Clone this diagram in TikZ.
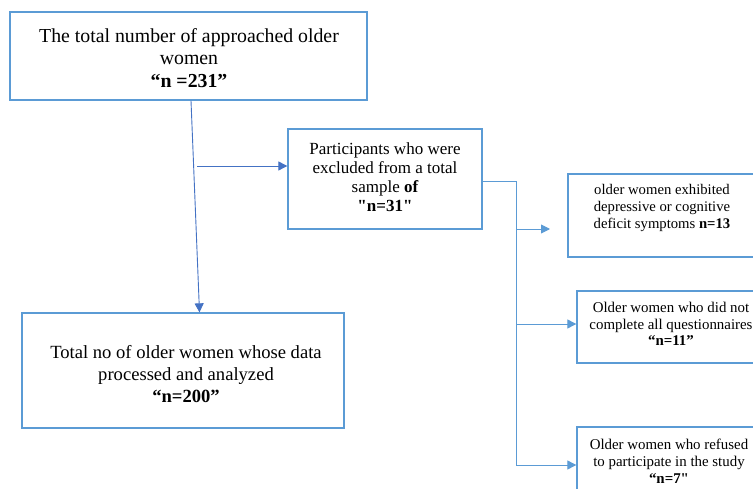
\documentclass[tikz,border=0pt]{standalone}
\usepackage{fontspec}
\setmainfont{Liberation Serif}[Ligatures=TeXOff]
\usetikzlibrary{arrows.meta}
\definecolor{boxblue}{HTML}{5B9BD5}
\definecolor{arrblue}{HTML}{4472C4}
\begin{document}
\begin{tikzpicture}[x=1pt,y=-1pt,
  box/.style={draw=boxblue, line width=1.3pt, rectangle, inner sep=0pt},
  txt/.style={align=center, inner sep=0pt, font=#1},
  conn/.style={draw=arrblue, line width=0.9pt},
  branch/.style={draw=boxblue, line width=0.9pt},
  arr/.style={-{Triangle[length=9pt,width=9pt]}}]
\useasboundingbox (0,0) rectangle (753,489);
\clip (0,0) rectangle (753,489);
\fill[white] (0,0) rectangle (753,489);
% boxes
\node[box, minimum width=357pt, minimum height=88pt] (b1) at (188.5,56) {};
\node[txt={\fontsize{19.8}{22.5}\selectfont}, anchor=center] (t1) at (189,58) {The total number of approached older\\women\\\textbf{“n =231”}};
\node[box, minimum width=322pt, minimum height=115pt] (b2) at (183,370.5) {};
\node[txt={\fontsize{18.6}{22}\selectfont}, anchor=center] (t2) at (186,374) {Total no of older women whose data\\processed and analyzed\\\textbf{“n=200”}};
\node[box, minimum width=194pt, minimum height=100pt] (ex) at (385,179) {};
\node[txt={\fontsize{17}{19}\selectfont}, anchor=center] (tex) at (385,177) {Participants who were\\excluded from a total\\sample \textbf{of}\\\textbf{"n=31"}};
\node[box, minimum width=188pt, minimum height=83pt] (ba) at (662,215.5) {};
\node[txt={\fontsize{14.7}{17}\selectfont}, anchor=center] (ta) at (662,208) {older women exhibited\\depressive or cognitive\\deficit symptoms \textbf{n=13}};
\node[box, minimum width=190pt, minimum height=72pt] (bb) at (672,327) {};
\node[txt={\fontsize{14.9}{16.8}\selectfont}, anchor=center] (tb) at (671,324) {Older women who did not\\complete all questionnaires\\\textbf{“n=11”}};
\node[box, minimum width=190pt, minimum height=90pt] (bc) at (672,472) {};
\node[txt={\fontsize{14.9}{17}\selectfont}, anchor=center] (tc) at (669,461) {Older women who refused\\to participate in the study\\\textbf{“n=7"}};
% connectors
\draw[conn, arr] ([xshift=2.5pt]b1.south) -- ([xshift=16.5pt]b2.north);
\coordinate (h0) at (197,166);
\draw[conn, arr] (h0) -- (h0 -| ex.west);
\coordinate (j0) at (516,181);
\coordinate (j3) at (516,465);
\draw[branch] (j0 -| ex.east) -- (j0) -- (j3);
\coordinate (ja) at (516,229);
\coordinate (ea) at (550,229);
\draw[branch, arr] (ja) -- (ea);
\coordinate (jb) at (516,324);
\draw[branch, arr] (jb) -- (jb -| bb.west);
\draw[branch, arr] (j3) -- (j3 -| bc.west);
\end{tikzpicture}
\end{document}
